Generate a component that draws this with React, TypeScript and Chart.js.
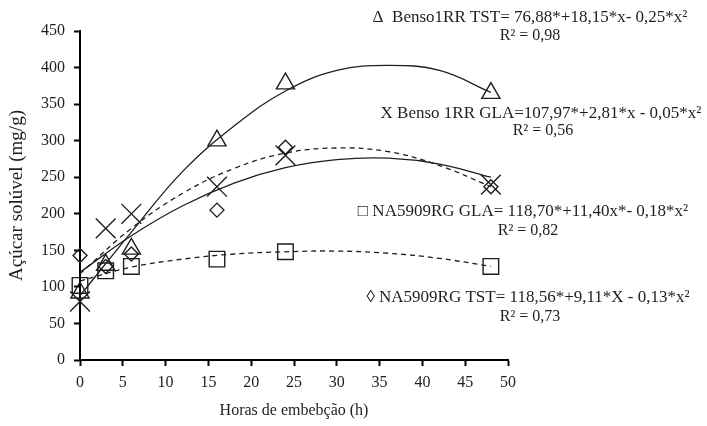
import React, { useEffect, useRef } from 'react';
import { Chart, registerables } from 'chart.js';

Chart.register(...registerables);

// Observed data (hours of imbibition vs soluble sugar, mg/g)
const hours = [0, 3, 6, 16, 24, 48];
const bensoTST = [92, 130, 152, 300, 378, 365];
const bensoGLA = [80, 180, 200, 237, 280, 240];
const naGLA = [102, 122, 128, 138, 148, 128];
const naTST = [143, 128, 145, 205, 291, 237];

// Fitted trend curves
const fitHours = [0, 6, 12, 18, 24, 30, 36, 42, 48];
const fitBensoTST = [88, 175, 258, 320, 368, 396, 403, 396, 366];
const fitBensoGLA = [120, 170, 211, 242, 263, 274, 276, 268, 250];
const fitNaTST = [118, 180, 228, 262, 283, 290, 285, 266, 237];
const fitNaGLA = [108, 127, 138, 145, 148, 149, 146, 139, 128];

const xTicks = [0, 5, 10, 15, 20, 25, 30, 35, 40, 45, 50];
const yTicks = [0, 50, 100, 150, 200, 250, 300, 350, 400, 450];

const xTitle = 'Horas de embebção (h)';
const yTitle = 'Açúcar solúvel (mg/g)';

const noteTexts = [
  'Δ  Benso1RR TST= 76,88*+18,15*x- 0,25*x²',
  'R² = 0,98',
  'X Benso 1RR GLA=107,97*+2,81*x - 0,05*x²',
  'R² = 0,56',
  '□ NA5909RG GLA= 118,70*+11,40x*- 0,18*x²',
  'R² = 0,82',
  '◊ NA5909RG TST= 118,56*+9,11*X - 0,13*x²',
  'R² = 0,73',
];

// layout of the note texts (center x, center y, font size)
const notePos: [number, number, number][] = [
  [530, 18, 17], [530, 36, 16],
  [541, 114, 17], [543, 131, 16],
  [523, 212, 17], [528, 231, 16],
  [528, 298, 17], [530, 317, 16],
];

const FONT = '"Liberation Serif", "Times New Roman", serif';
const INK = '#1e1e1e';

const notesPlugin = {
  id: 'notes',
  afterDraw(chart: any) {
    const ctx = chart.ctx;
    ctx.save();
    ctx.fillStyle = INK;
    ctx.textAlign = 'center';
    ctx.textBaseline = 'middle';
    noteTexts.forEach((t, i) => {
      const [x, y, s] = notePos[i];
      ctx.font = `${s}px ${FONT}`;
      ctx.fillText(t, x, y);
    });
    ctx.restore();
  },
};

const pts = (xs: number[], ys: number[]) => xs.map((x, i) => ({ x, y: ys[i] }));

export default function App() {
  const ref = useRef<HTMLCanvasElement | null>(null);

  useEffect(() => {
    if (!ref.current) return;
    const fitLine = (data: number[], dashed: boolean) => ({
      type: 'line' as const,
      data: pts(fitHours, data),
      borderColor: INK,
      borderWidth: 1.3,
      borderDash: dashed ? [5, 4] : [],
      pointRadius: 0,
      tension: 0.4,
      fill: false,
      clip: false,
      order: 2,
    });
    const marks = (data: number[], style: string, r: number) => ({
      type: 'scatter' as const,
      data: pts(hours, data),
      showLine: false,
      pointStyle: style,
      pointRadius: r,
      pointBorderColor: INK,
      pointBackgroundColor: 'rgba(255,255,255,0)',
      pointBorderWidth: 1.4,
      borderColor: INK,
      backgroundColor: 'rgba(255,255,255,0)',
      clip: false,
      order: 1,
    });

    const chart = new Chart(ref.current, {
      type: 'scatter',
      data: {
        datasets: [
          fitLine(fitBensoTST, false),
          fitLine(fitBensoGLA, false),
          fitLine(fitNaTST, true),
          fitLine(fitNaGLA, true),
          marks(naTST, 'rectRot', 7),
          marks(naGLA, 'rect', 11),
          marks(bensoGLA, 'crossRot', 14),
          marks(bensoTST, 'triangle', 10.5),
        ] as any,
      },
      options: {
        animation: false,
        responsive: false,
        maintainAspectRatio: false,
        layout: { padding: { top: 31, right: 199, left: 0, bottom: 0 } },
        plugins: { legend: { display: false }, tooltip: { enabled: false } },
        scales: {
          x: {
            type: 'linear',
            min: 0,
            max: 50,
            afterBuildTicks: (s: any) => { s.ticks = xTicks.map((v) => ({ value: v })); },
            ticks: { color: INK, font: { family: FONT, size: 16 }, padding: 7, maxRotation: 0 },
            grid: { display: true, drawOnChartArea: false, drawTicks: true, tickLength: 6, tickColor: '#000', tickWidth: 2 },
            border: { display: true, color: '#000', width: 2 },
            title: { display: true, text: xTitle, color: INK, font: { family: FONT, size: 16 }, padding: { top: 4, bottom: 6 } },
            afterFit: (s: any) => { s.height = 66; },
          },
          y: {
            type: 'linear',
            min: 0,
            max: 450,
            afterBuildTicks: (s: any) => { s.ticks = yTicks.map((v) => ({ value: v })); },
            ticks: { color: INK, font: { family: FONT, size: 16 }, padding: 9 },
            grid: { display: true, drawOnChartArea: false, drawTicks: true, tickLength: 6, tickColor: '#000', tickWidth: 2 },
            border: { display: true, color: '#000', width: 2 },
            title: { display: true, text: yTitle, color: INK, font: { family: FONT, size: 19 }, padding: { top: 6, bottom: 4 } },
            afterFit: (s: any) => { s.width = 80; },
          },
        },
      } as any,
      plugins: [notesPlugin],
    });
    return () => chart.destroy();
  }, []);

  return (
    <div style={{ position: 'absolute', left: 0, top: 0, width: 707, height: 426, background: '#fff' }}>
      <canvas ref={ref} width={707} height={426} />
    </div>
  );
}
